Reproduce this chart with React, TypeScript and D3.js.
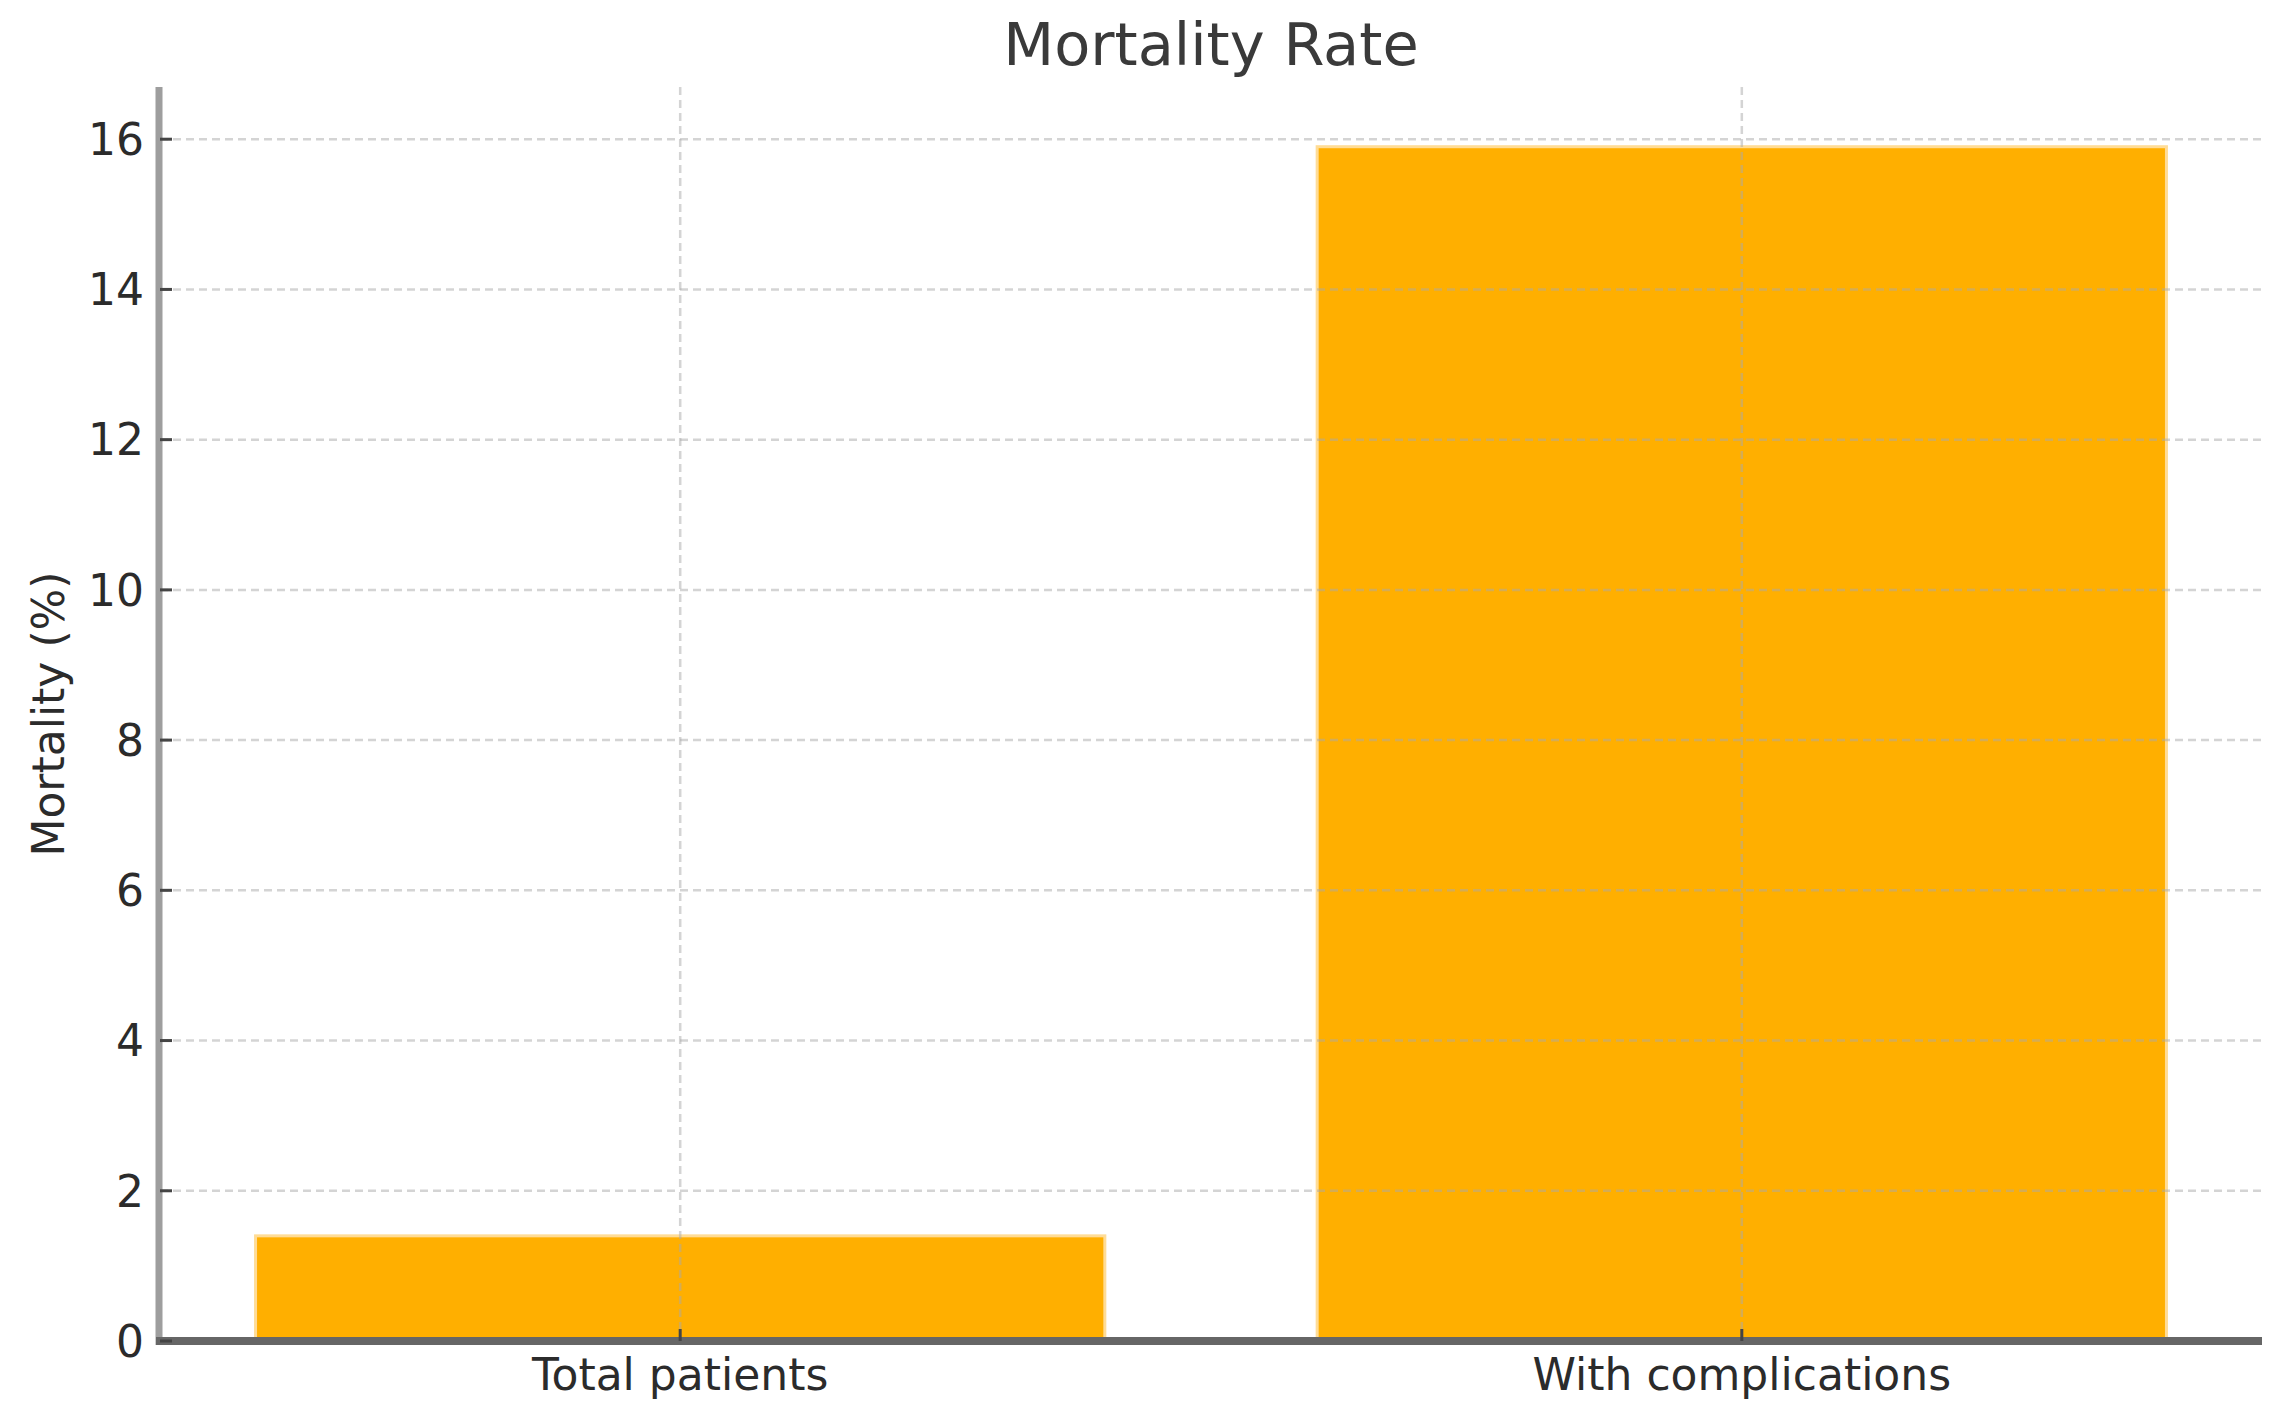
import React from "react";
import { scaleLinear } from "d3";

const CATEGORIES = ["Total patients", "With complications"];
const MORTALITY = [1.4, 15.9];
const Y_TICKS = [0, 2, 4, 6, 8, 10, 12, 14, 16];

const W = 2275;
const H = 1422;
const PLOT = { left: 160, right: 2262, top: 87, bottom: 1341 };
const BAR_W = 0.8;
const BAR = "#ffaf00";
const FONT = "'DejaVu Sans', sans-serif";

export default function App() {
  // matplotlib-like limits: 5% margin around the bars
  const span = CATEGORIES.length - 1 + BAR_W;
  const pad = span * 0.05;
  const x = scaleLinear()
    .domain([-BAR_W / 2 - pad, CATEGORIES.length - 1 + BAR_W / 2 + pad])
    .range([PLOT.left, PLOT.right]);
  const yMax = Math.max(...MORTALITY) * 1.05;
  const y = scaleLinear().domain([0, yMax]).range([PLOT.bottom, PLOT.top]);

  return (
    <svg
      width={W}
      height={H}
      viewBox={`0 0 ${W} ${H}`}
      style={{ position: "absolute", left: 0, top: 0, background: "#fff" }}
      fontFamily={FONT}
    >
      <text x={(PLOT.left + PLOT.right) / 2} y={65} textAnchor="middle" fontSize={59} fill="#3a3a3a">
        Mortality Rate
      </text>

      {/* bars */}
      {MORTALITY.map((v, i) => (
        <rect
          key={CATEGORIES[i]}
          x={x(i - BAR_W / 2)}
          y={y(v)}
          width={x(i + BAR_W / 2) - x(i - BAR_W / 2)}
          height={y(0) - y(v)}
          fill={BAR}
          stroke="#ffdc96"
          strokeWidth={3}
        />
      ))}

      {/* grid, drawn on top with alpha */}
      <g stroke="#aaaaaa" strokeOpacity={0.5} strokeWidth={2.5} strokeDasharray="8 5">
        {Y_TICKS.filter((t) => t > 0).map((t) => (
          <line key={t} x1={PLOT.left} x2={PLOT.right} y1={y(t)} y2={y(t)} />
        ))}
        {CATEGORIES.map((c, i) => (
          <line key={c} x1={x(i)} x2={x(i)} y1={PLOT.top} y2={PLOT.bottom} />
        ))}
      </g>

      {/* spines */}
      <line x1={PLOT.left - 1} x2={PLOT.left - 1} y1={PLOT.top} y2={PLOT.bottom + 4} stroke="#9e9e9e" strokeWidth={7} />
      <line x1={PLOT.left - 4} x2={PLOT.right} y1={PLOT.bottom} y2={PLOT.bottom} stroke="#666" strokeWidth={8} />

      {/* y ticks */}
      {Y_TICKS.map((t) => (
        <g key={t}>
          <line x1={PLOT.left} x2={PLOT.left + 12} y1={y(t)} y2={y(t)} stroke="#444" strokeWidth={3} />
          <text x={PLOT.left - 16} y={y(t)} dy="0.36em" textAnchor="end" fontSize={44} fill="#2b2b2b">
            {t}
          </text>
        </g>
      ))}

      {/* x ticks */}
      {CATEGORIES.map((c, i) => (
        <g key={c}>
          <line x1={x(i)} x2={x(i)} y1={PLOT.bottom} y2={PLOT.bottom - 12} stroke="#444" strokeWidth={3} />
          <text x={x(i)} y={1390} textAnchor="middle" fontSize={44} fill="#2b2b2b">
            {c}
          </text>
        </g>
      ))}

      <text
        transform={`translate(48,${(PLOT.top + PLOT.bottom) / 2}) rotate(-90)`}
        textAnchor="middle"
        dy="0.36em"
        fontSize={44}
        fill="#2b2b2b"
      >
        Mortality (%)
      </text>
    </svg>
  );
}
